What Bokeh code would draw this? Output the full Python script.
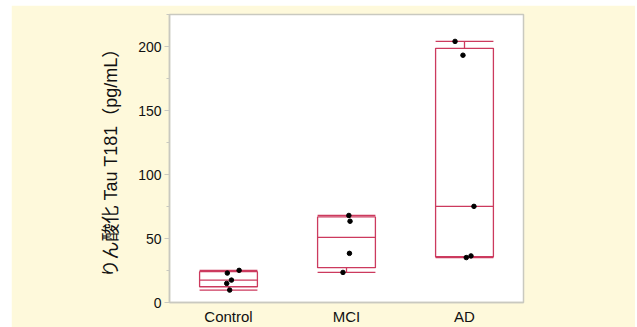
import numpy as np
from bokeh.plotting import figure
from bokeh.models import ColumnDataSource, FactorRange, Range1d, SingleIntervalTicker
from bokeh.embed import file_html
from bokeh.resources import INLINE

# ---- data ----
groups = ["Control", "MCI", "AD"]
control_vals = [25.1, 23.0, 17.5, 14.9, 9.7]
mci_vals = [68.0, 63.5, 38.4, 23.5]
ad_vals = [204.0, 193.2, 75.1, 36.4, 35.1]
control_jitter = [0.09, -0.01, 0.025, -0.015, 0.01]
mci_jitter = [0.02, 0.03, 0.025, -0.03]
ad_jitter = [-0.08, -0.013, 0.08, 0.055, 0.015]
y_ticks_interval = 50
y_label = "りん酸化 Tau T181（pg/mL）"

values = [control_vals, mci_vals, ad_vals]
jitters = [control_jitter, mci_jitter, ad_jitter]

BOX_COLOR = "#CC3A5E"
BG = "#FEF9DB"
GRID_GRAY = "#C9C9C0"
BOX_W = 0.49

# box statistics (JMP-style quantiles: position (n+1)p)
q1s, meds, q3s, lows, highs = [], [], [], [], []
for v in values:
    a = np.array(v)
    q1, med, q3 = np.quantile(a, [0.25, 0.5, 0.75], method="weibull")
    q1s.append(q1); meds.append(med); q3s.append(q3)
    lows.append(a.min()); highs.append(a.max())

box_src = ColumnDataSource(dict(
    x=groups, q1=q1s, q3=q3s, med=meds, lo=lows, hi=highs,
    left=[(g, -BOX_W / 2) for g in groups],
    right=[(g, BOX_W / 2) for g in groups],
))

px, py = [], []
for g, v, j in zip(groups, values, jitters):
    for val, off in zip(v, j):
        px.append((g, off)); py.append(val)
pt_src = ColumnDataSource(dict(x=px, y=py))

p = figure(
    x_range=FactorRange(*groups, range_padding=0),
    y_range=Range1d(0, 225),
    width=624, height=322,
    output_backend="svg", toolbar_location=None,
    min_border_left=158, min_border_right=112,
    min_border_top=9, min_border_bottom=25,
    background_fill_color="white",
    border_fill_color=BG,
)
p.margin = (5, 0, 0, 11)

# boxes
p.vbar(x="x", width=BOX_W, bottom="q1", top="q3", source=box_src,
       fill_color=None, line_color=BOX_COLOR, line_width=1.3)
# medians
p.segment(x0="left", x1="right", y0="med", y1="med", source=box_src,
          line_color=BOX_COLOR, line_width=1.3)
# whiskers
p.segment(x0="x", x1="x", y0="q3", y1="hi", source=box_src,
          line_color=BOX_COLOR, line_width=1.3)
p.segment(x0="x", x1="x", y0="q1", y1="lo", source=box_src,
          line_color=BOX_COLOR, line_width=1.3)
# caps
p.segment(x0="left", x1="right", y0="hi", y1="hi", source=box_src,
          line_color=BOX_COLOR, line_width=1.3)
p.segment(x0="left", x1="right", y0="lo", y1="lo", source=box_src,
          line_color=BOX_COLOR, line_width=1.3)
# points
p.scatter(x="x", y="y", source=pt_src, size=4.5, color="black")

p.grid.visible = False
p.outline_line_color = GRID_GRAY
p.outline_line_width = 1.5

# y axis
p.yaxis.ticker = SingleIntervalTicker(interval=y_ticks_interval, num_minor_ticks=2)
p.yaxis.axis_line_color = GRID_GRAY
p.yaxis.axis_line_width = 1.5
p.yaxis.major_tick_line_color = GRID_GRAY
p.yaxis.minor_tick_line_color = GRID_GRAY
p.yaxis.major_tick_in = 0
p.yaxis.major_tick_out = 5
p.yaxis.minor_tick_in = 0
p.yaxis.minor_tick_out = 3
p.yaxis.major_label_standoff = 3
p.yaxis.major_label_text_font = "Liberation Sans"
p.yaxis.major_label_text_font_size = "14px"
p.yaxis.major_label_text_color = "#111111"
p.yaxis.axis_label = y_label
p.yaxis.axis_label_text_font = "Liberation Sans, Noto Sans CJK JP"
p.yaxis.axis_label_text_font_size = "18px"
p.yaxis.axis_label_text_font_style = "normal"
p.yaxis.axis_label_text_color = "#111111"
p.yaxis.axis_label_standoff = 14

# x axis
p.xaxis.axis_line_color = GRID_GRAY
p.xaxis.axis_line_width = 1.5
p.xaxis.major_tick_line_color = None
p.xaxis.minor_tick_line_color = None
p.xaxis.major_tick_in = 0
p.xaxis.major_tick_out = 0
p.xaxis.major_label_standoff = 5
p.xaxis.major_label_text_font = "Liberation Sans"
p.xaxis.major_label_text_font_size = "15px"
p.xaxis.major_label_text_color = "#111111"

open("out.html", "w").write(file_html(p, INLINE))
